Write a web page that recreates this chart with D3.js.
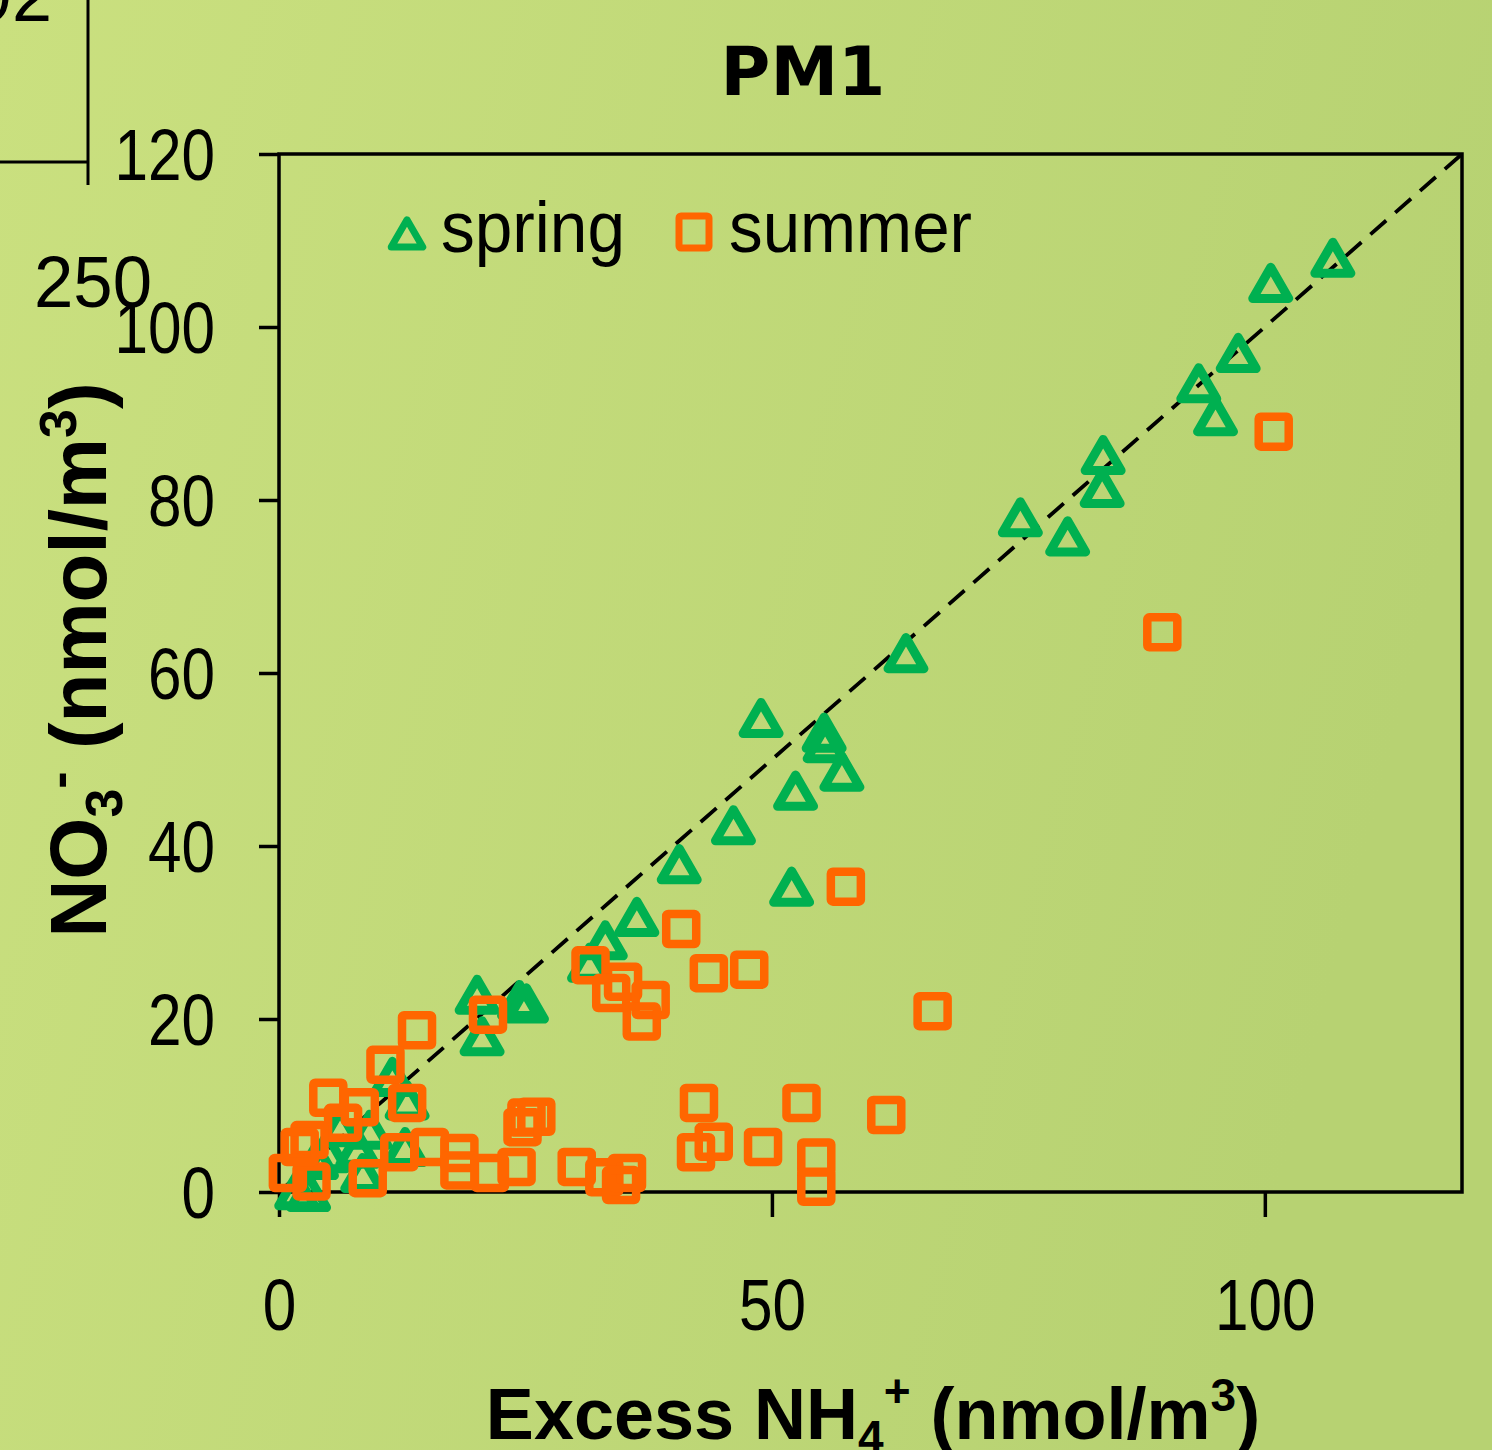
<!DOCTYPE html>
<html>
<head>
<meta charset="utf-8">
<script src="https://cdn.jsdelivr.net/npm/d3@7"></script>
<style>
  body { margin: 0; }
  svg { display: block; }
</style>
</head>
<body>
<div id="chart"></div>
<script>
// values
const springX = [106.9, 100.6, 97.3, 93.3, 95.0, 83.6, 83.5, 75.2, 80.0, 63.6, 48.9, 55.3, 55.4, 57.1, 52.4, 46.1, 40.6, 52.0, 36.3, 33.1, 31.5, 20.1, 20.6, 24.4, 25.1, 11.5, 13.0, 12.8, 8.5, 3.8, 9.2, 1.8, 3.0, 6.2, 5.0, 8.0];
const springY = [108.0, 105.1, 97.0, 93.5, 89.7, 85.2, 81.4, 78.0, 75.8, 62.3, 54.8, 53.1, 51.9, 48.6, 46.4, 42.4, 37.9, 35.3, 31.8, 29.1, 26.5, 22.8, 18.0, 22.2, 21.8, 13.3, 10.6, 5.2, 2.2, 3.7, 7.2, 0.2, 0.0, 7.5, 4.5, 5.0];

const summerX = [100.9, 89.6, 57.5, 66.3, 40.8, 31.6, 43.6, 47.7, 34.9, 33.7, 37.7, 36.8, 42.6, 53.0, 61.6, 44.1, 42.3, 49.1, 54.5, 54.5, 30.2, 33.0, 35.3, 34.7, 14.0, 10.8, 5.0, 13.0, 8.2, 6.5, 3.1, 0.9, 3.3, 9.0, 12.2, 15.3, 18.3, 18.3, 21.4, 24.1, 25.1, 26.1, 24.7, 21.2, 2.1];
const summerY = [87.9, 64.7, 35.3, 20.9, 30.4, 26.2, 25.3, 25.7, 24.3, 23.0, 22.2, 19.7, 10.3, 10.3, 8.9, 5.8, 4.6, 5.2, 4.0, 0.6, 2.9, 1.7, 2.2, 0.8, 18.7, 14.7, 10.9, 10.3, 9.8, 8.0, 6.0, 2.2, 1.2, 1.6, 4.6, 5.2, 4.5, 2.5, 2.2, 2.9, 8.6, 8.7, 7.5, 20.5, 5.2];

const xTicks = [0, 50, 100];
const yTicks = [0, 20, 40, 60, 80, 100, 120];
const seriesNames = ["spring", "summer"];

const width = 1492;
const height = 1450;
const green = "#00b050";
const orange = "#ff6600";
const font = "'Liberation Sans', Arial, sans-serif";

const svg = d3.select("#chart")
    .append("svg")
    .attr("width", width)
    .attr("height", height);

// background
const grad = svg.append("defs").append("linearGradient")
    .attr("id", "bg")
    .attr("x1", 0).attr("y1", 0).attr("x2", 1).attr("y2", 0.25);
grad.append("stop").attr("offset", "0%").attr("stop-color", "#cae07f");
grad.append("stop").attr("offset", "100%").attr("stop-color", "#b7d272");
svg.append("rect").attr("width", width).attr("height", height).attr("fill", "url(#bg)");

// bits of the neighbouring chart at the top left
svg.append("line").attr("x1", 88).attr("x2", 88).attr("y1", 0).attr("y2", 185)
    .attr("stroke", "black").attr("stroke-width", 3);
svg.append("line").attr("x1", 0).attr("x2", 88).attr("y1", 162).attr("y2", 162)
    .attr("stroke", "black").attr("stroke-width", 3);
svg.append("text").attr("x", 52).attr("y", 21).attr("font-family", font)
    .attr("font-size", 72).attr("text-anchor", "end").attr("fill", "black").text("92");
svg.append("text").attr("x", 152).attr("y", 307).attr("font-family", font)
    .attr("font-size", 72).attr("text-anchor", "end").attr("fill", "black")
    .attr("textLength", 118).attr("lengthAdjust", "spacingAndGlyphs").text("250");

const x = d3.scaleLinear().domain([0, 120]).range([279, 1462]);
const y = d3.scaleLinear().domain([0, 120]).range([1192, 154]);

// frame
svg.append("rect")
    .attr("x", x(0)).attr("y", y(120))
    .attr("width", x(120) - x(0)).attr("height", y(0) - y(120))
    .attr("fill", "none").attr("stroke", "black").attr("stroke-width", 3.5);

// axes
const xAxis = svg.append("g")
    .attr("transform", `translate(0,${y(0)})`)
    .call(d3.axisBottom(x).tickValues(xTicks).tickSize(25).tickSizeOuter(0).tickPadding(62));
const yAxis = svg.append("g")
    .attr("transform", `translate(${x(0)},0)`)
    .call(d3.axisLeft(y).tickValues(yTicks).tickSize(20).tickSizeOuter(0).tickPadding(44));

[xAxis, yAxis].forEach(g => {
    g.select(".domain").remove();
    g.selectAll(".tick line").attr("stroke", "black").attr("stroke-width", 3.5);
    g.selectAll(".tick text")
        .attr("font-family", font)
        .attr("font-size", 72)
        .attr("fill", "black")
        .attr("textLength", d => String(d).length * 33.5)
        .attr("lengthAdjust", "spacingAndGlyphs");
});
yAxis.selectAll(".tick text").attr("dy", "0.36em");

// 1:1 line
svg.append("line")
    .attr("x1", x(0)).attr("y1", y(0))
    .attr("x2", x(120)).attr("y2", y(120))
    .attr("stroke", "black").attr("stroke-width", 3.8)
    .attr("stroke-dasharray", "21 12");

// markers
const triSize = 560;
const triShift = Math.sqrt(triSize / (Math.sqrt(3) * 3)) / 2;
const tri = d3.symbol().type(d3.symbolTriangle).size(triSize);
const plot = svg.append("g");

plot.selectAll(".spring")
    .data(d3.range(springX.length))
    .enter()
    .append("path")
    .attr("class", "spring")
    .attr("d", tri)
    .attr("transform", i => `translate(${x(springX[i])},${y(springY[i]) + triShift})`)
    .attr("fill", "none")
    .attr("stroke", green)
    .attr("stroke-width", 9)
    .attr("stroke-linejoin", "round");

const s = 30;
plot.selectAll(".summer")
    .data(d3.range(summerX.length))
    .enter()
    .append("rect")
    .attr("class", "summer")
    .attr("x", i => x(summerX[i]) - s / 2)
    .attr("y", i => y(summerY[i]) - s / 2)
    .attr("width", s)
    .attr("height", s)
    .attr("rx", 2)
    .attr("fill", "none")
    .attr("stroke", orange)
    .attr("stroke-width", 8.5);

// legend
const legend = svg.append("g").attr("font-family", font).attr("font-size", 72);
legend.append("path")
    .attr("d", d3.symbol().type(d3.symbolTriangle).size(430))
    .attr("transform", "translate(407,238)")
    .attr("fill", "none").attr("stroke", green).attr("stroke-width", 7)
    .attr("stroke-linejoin", "round");
legend.append("text").attr("x", 441).attr("y", 252).text(seriesNames[0])
    .attr("textLength", 184).attr("lengthAdjust", "spacingAndGlyphs");
legend.append("rect")
    .attr("x", 679).attr("y", 216).attr("width", 30).attr("height", 32).attr("rx", 2)
    .attr("fill", "none").attr("stroke", orange).attr("stroke-width", 7);
legend.append("text").attr("x", 729).attr("y", 252).text(seriesNames[1])
    .attr("textLength", 243).attr("lengthAdjust", "spacingAndGlyphs");

// title
svg.append("text")
    .attr("x", 803).attr("y", 95)
    .attr("text-anchor", "middle")
    .attr("font-family", "'DejaVu Sans', Verdana, sans-serif")
    .attr("font-weight", "bold")
    .attr("font-size", 68)
    .text("PM1");

// x label
const xl = svg.append("text")
    .attr("x", 873).attr("y", 1439)
    .attr("text-anchor", "middle")
    .attr("font-family", font)
    .attr("font-weight", "bold")
    .attr("font-size", 72);
xl.append("tspan").text("Excess NH");
xl.append("tspan").attr("font-size", 46).attr("dy", 14).text("4");
xl.append("tspan").attr("font-size", 46).attr("dy", -46).text("+");
xl.append("tspan").attr("dy", 32).text(" (nmol/m");
xl.append("tspan").attr("font-size", 46).attr("dy", -28).text("3");
xl.append("tspan").attr("dy", 28).text(")");

// y label
const yl = svg.append("text")
    .attr("transform", "translate(106,660) rotate(-90)")
    .attr("text-anchor", "middle")
    .attr("font-family", font)
    .attr("font-weight", "bold")
    .attr("font-size", 80);
yl.append("tspan").text("NO");
yl.append("tspan").attr("font-size", 52).attr("dy", 16).text("3");
yl.append("tspan").attr("font-size", 52).attr("dy", -46).text("-");
yl.append("tspan").attr("dy", 30).text(" (nmol/m");
yl.append("tspan").attr("font-size", 52).attr("dy", -30).text("3");
yl.append("tspan").attr("dy", 30).text(")");
</script>
</body>
</html>
